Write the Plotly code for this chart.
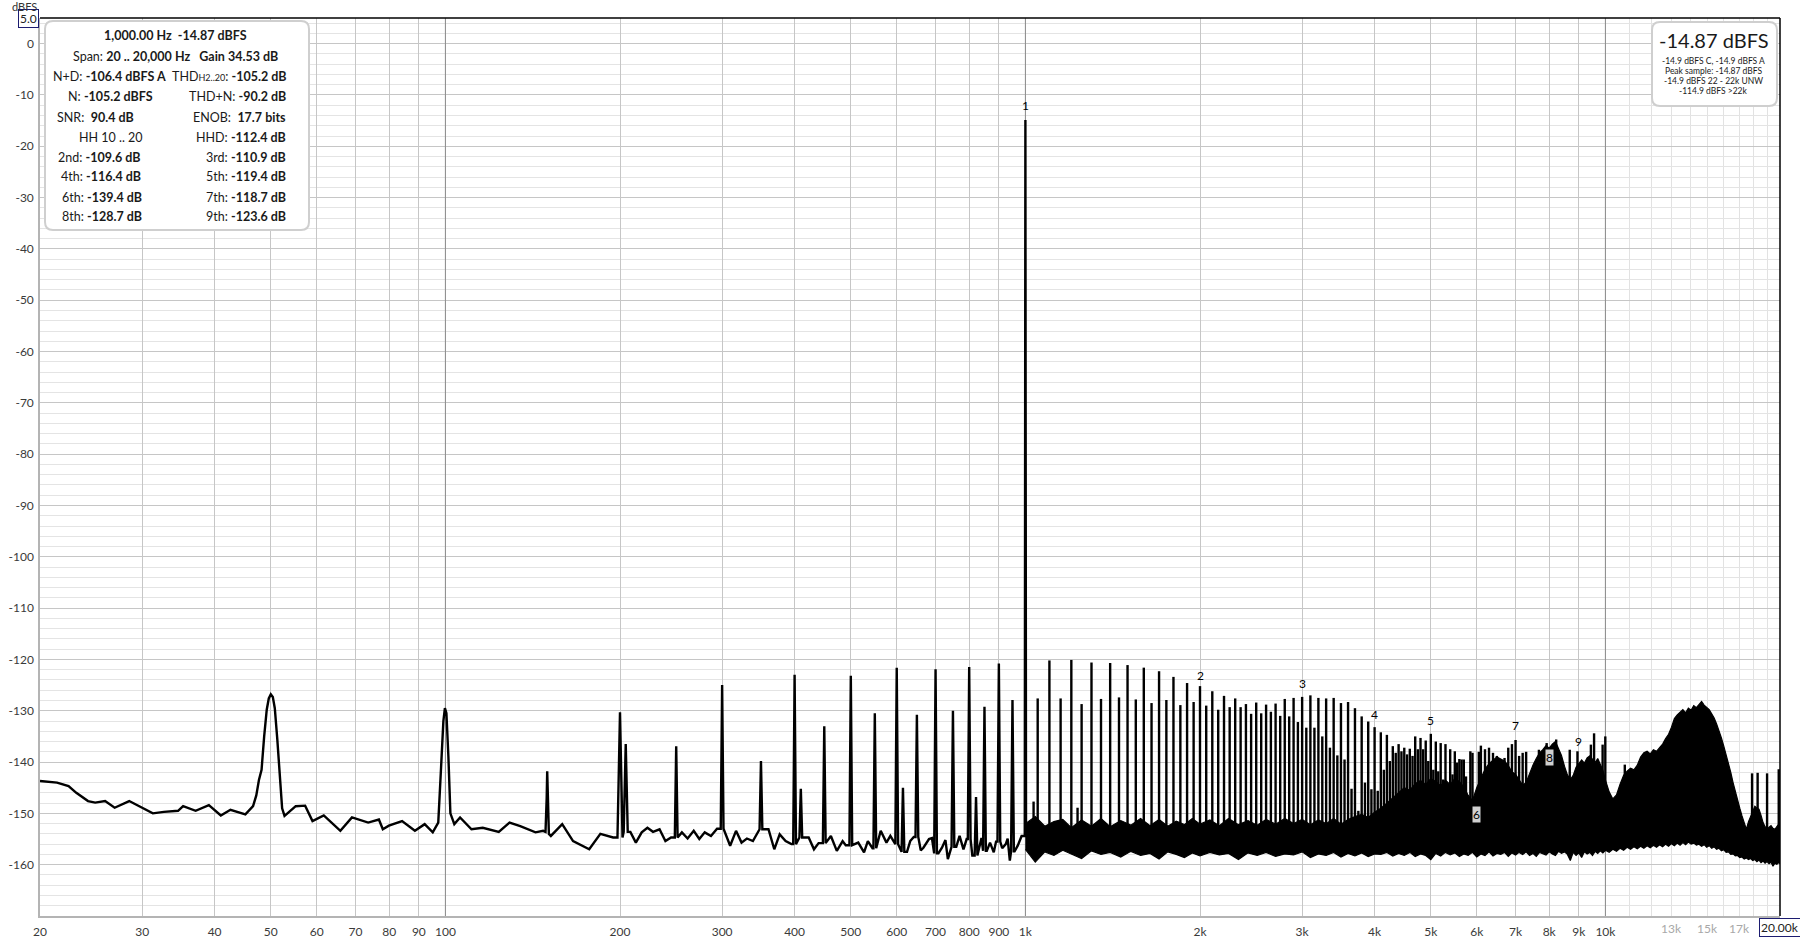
import math
import plotly.graph_objects as go

# ---------------- data ----------------
# low-frequency curve 20..185 Hz (Hz, dBFS)
lf_freq = [20.0, 21.4, 22.4, 23.1, 24.2, 24.9, 25.9, 26.9, 28.5, 29.9,
           31.3, 32.7, 34.6, 35.3, 37.1, 39.1, 41.0, 42.6, 45.2, 46.6,
           47.2, 47.7, 48.2, 48.7, 49.2, 49.6, 50.0, 50.4, 50.8, 51.3,
           51.8, 52.3, 52.8, 55.2, 57.3, 59.0, 61.7, 65.9, 69.0, 73.6,
           76.8, 78.0, 79.9, 84.2, 88.6, 92.1, 95.1, 97.2, 98.3, 99.2,
           99.8, 100.4, 101.2, 102.0, 103.6, 106.0, 110.9, 116.0, 123.6, 129.0,
           134.6, 143.0, 147.4, 148.8, 149.5, 149.8, 150.2, 150.8, 152.0, 159.0,
           166.0, 177.0, 185.0]
lf_db = [-143.7, -144.0, -144.7, -146.0, -147.6, -147.9, -147.6, -148.9, -147.6, -148.9,
         -150.0, -149.7, -149.5, -148.6, -149.5, -148.4, -150.4, -149.3, -150.2, -148.6,
         -146.5, -143.5, -141.5, -135.0, -129.8, -127.6, -126.8, -127.3, -129.5, -135.5,
         -143.5, -149.0, -150.5, -148.6, -148.5, -151.5, -150.4, -153.4, -150.8, -151.8,
         -151.2, -153.1, -152.4, -151.5, -153.4, -152.1, -153.7, -151.8, -141.0, -132.0,
         -129.5, -130.5, -139.0, -150.0, -152.1, -150.8, -153.1, -152.8, -153.6, -151.8,
         -152.5, -153.7, -153.4, -153.6, -147.0, -141.8, -146.5, -154.0, -154.4, -152.1,
         -155.4, -157.0, -154.0]

# noise floor 190 Hz .. 1 kHz
mid_floor_freq = [190, 194.6, 208.4, 213, 218, 223, 228, 234, 239.5, 245,
                  255.7, 261.6, 268, 274, 280, 287, 294, 309.7, 317, 324,
                  331, 339, 360.6, 369, 377, 386, 395, 423, 432, 440,
                  462, 473, 484, 490, 515, 527, 535, 545, 563, 576,
                  585, 595, 625, 633, 642, 660, 667, 682, 690, 708,
                  718, 728, 735, 760, 770, 782, 792, 810, 834, 840,
                  858, 869, 882, 890, 912, 925, 932, 940, 958, 970, 985]
mid_floor_db = [-154.4, -154.7, -153.6, -155.7, -153.7, -152.8, -153.6, -153.1, -155.4, -154.7,
                -153.7, -154.9, -153.4, -155.0, -153.7, -154.4, -153.0, -156.3, -153.4, -155.7,
                -154.9, -155.4, -153.1, -157.0, -154.1, -155.4, -156.0, -154.7, -157.0, -155.8,
                -154.4, -157.3, -155.4, -156.2, -155.7, -157.6, -155.4, -156.8, -153.4, -155.7,
                -154.4, -156.0, -157.5, -155.4, -154.6, -157.2, -156.7, -155.0, -154.8, -157.8,
                -156.7, -155.2, -158.9, -156.5, -154.4, -157.0, -155.0, -158.2, -156.3, -154.8,
                -157.3, -155.7, -157.6, -155.5, -156.8, -156.0, -154.9, -159.2, -157.4, -156.3, -154.4]

# tones below / at 1 kHz
mid_spike_freq = [200, 204.6, 250, 300, 350, 400, 410, 450, 500, 550,
                  600, 615, 650, 700, 750, 800, 822, 850, 900, 950, 1000]
mid_spike_db = [-130.3, -136.5, -136.9, -125.0, -139.8, -123.0, -145.2, -133.0, -123.2, -130.5,
                -121.6, -145.0, -130.8, -121.9, -130.0, -121.5, -146.8, -129.2, -120.8, -127.9, -14.87]

# tones above 1 kHz
hf_spike_freq = [1033, 1050, 1100, 1150, 1200, 1230, 1250, 1300, 1350, 1400,
                 1450, 1500, 1550, 1600, 1650, 1700, 1750, 1800, 1850, 1900,
                 1950, 2000, 2050, 2100, 2150, 2200, 2250, 2300, 2350, 2400,
                 2450, 2500, 2550, 2600, 2650, 2700, 2750, 2800, 2850, 2900,
                 2950, 3000, 3050, 3100, 3150, 3200, 3250, 3300, 3350, 3400,
                 3450, 3500, 3550, 3600, 3650, 3700, 3750, 3800, 3850, 3900,
                 3950, 4000, 4050, 4100, 4150, 4200, 4250, 4300, 4350, 4400,
                 4450, 4500, 4550, 4600, 4650, 4700, 4750, 4800, 4850, 4900,
                 4950, 5000, 5050, 5100, 5150, 5200, 5250, 5300, 5350, 5400,
                 5450, 5500, 5550, 5600, 5650, 5700, 5750, 5850, 5900, 6000,
                 6050, 6100, 6200, 6300, 6400, 6500, 6600, 6700, 6800, 6900,
                 7000, 7100, 7200, 7300, 7680, 7920, 8225, 8680, 8950, 9165,
                 9440, 9560, 9890, 9996, 10800, 11100, 17900, 18300, 19000, 19900]
hf_spike_db = [-147.7, -127.6, -120.2, -127.6, -120.1, -148.9, -128.7, -120.6, -127.7, -120.7,
               -127.4, -121.1, -127.8, -121.6, -128.5, -122.3, -127.9, -123.4, -128.9, -124.6,
               -128.3, -125.2, -129.0, -126.2, -129.8, -127.1, -129.3, -127.6, -129.3, -128.7,
               -130.6, -128.4, -130.5, -128.8, -130.2, -128.6, -131.0, -127.7, -131.1, -127.5,
               -132.2, -127.3, -133.3, -127.0, -133.3, -127.5, -135.0, -127.6, -137.2, -127.5,
               -138.7, -128.5, -139.5, -128.3, -145.2, -129.5, -149.5, -131.1, -144.0, -132.1,
               -145.3, -133.2, -145.6, -134.2, -141.5, -134.7, -139.8, -136.9, -138.2, -136.5,
               -137.9, -137.2, -138.5, -137.4, -138.8, -135.0, -137.5, -135.3, -137.5, -135.8,
               -139.8, -134.5, -141.5, -136.0, -141.8, -136.3, -143.4, -136.5, -145.3, -137.5,
               -142.4, -137.9, -140.1, -139.4, -139.5, -139.5, -142.8, -137.9, -138.2, -147.6,
               -138.0, -136.8, -137.5, -137.2, -138.2, -138.8, -139.5, -139.2, -137.2, -136.5,
               -135.7, -138.8, -138.2, -138.0, -137.6, -136.3, -135.6, -137.6, -137.9, -140.2,
               -136.6, -134.4, -136.6, -135.0, -140.5, -142.8, -142.2, -142.1, -142.2, -141.4]

# dense noise band above 1 kHz: top and bottom edges
band_freq = [1000, 1040, 1080, 1120, 1160, 1200, 1250, 1300, 1350, 1400,
             1460, 1520, 1580, 1640, 1700, 1760, 1820, 1880, 1940, 2000,
             2080, 2160, 2240, 2330, 2420, 2510, 2600, 2700, 2800, 2900,
             3000, 3100, 3200, 3300, 3400, 3500, 3600, 3700, 3800, 3900,
             4000, 4100, 4200, 4300, 4400, 4500, 4600, 4700, 4800, 4900,
             5000, 5100, 5200, 5300, 5400, 5500, 5600, 5700, 5800, 5900,
             6000, 6100, 6200, 6300, 6400, 6500, 6600, 6700, 6800, 6900,
             7000, 7100, 7200, 7300, 7400, 7500, 7600, 7700, 7800, 7900,
             8000, 8100, 8200, 8300, 8400, 8500, 8600, 8700, 8800, 8900,
             9000, 9100, 9200, 9300, 9400, 9500, 9600, 9700, 9800, 9900,
             10000, 10150, 10300, 10450, 10600, 10750, 10900, 11050, 11200, 11350,
             11500, 11650, 11800, 11950, 12100, 12250, 12400, 12550, 12700, 12850,
             13000, 13150, 13300, 13450, 13600, 13750, 13900, 14050, 14200, 14350,
             14500, 14650, 14800, 14950, 15100, 15250, 15400, 15550, 15700, 15850,
             16000, 16150, 16300, 16450, 16600, 16750, 16900, 17050, 17200, 17350,
             17500, 17650, 17800, 17950, 18100, 18250, 18400, 18550, 18700, 18850,
             19000, 19150, 19300, 19450, 19600, 19750, 19900, 20000]
band_top_db = [-152.0, -150.6, -152.5, -151.6, -151.2, -152.8, -151.3, -152.5, -151.0, -152.6,
               -151.4, -152.3, -151.0, -152.4, -151.2, -152.5, -151.5, -152.2, -151.0, -152.1,
               -151.3, -152.4, -151.0, -152.2, -151.4, -152.3, -151.2, -152.1, -151.0, -152.0,
               -151.2, -152.2, -151.3, -152.0, -151.0, -152.1, -151.2, -150.6, -150.2, -150.8,
               -149.8, -149.0, -148.0, -147.0, -146.0, -145.0, -145.5, -144.2, -143.6, -144.4,
               -143.2, -143.8, -144.6, -143.5, -144.4, -143.2, -143.8, -144.9, -146.5, -147.5,
               -145.0, -143.2, -141.4, -140.3, -139.6, -139.0, -139.4, -139.8, -140.7, -141.9,
               -142.4, -143.6, -144.5, -144.0, -142.2, -140.6, -139.3, -138.2, -137.6, -136.8,
               -137.3, -136.5, -136.0, -137.4, -138.7, -140.8, -142.5, -143.4, -142.6, -141.0,
               -140.3, -139.6, -140.2, -139.2, -138.8, -139.5, -140.1, -139.3, -140.4, -141.6,
               -143.5, -145.8, -147.2, -146.4, -144.3, -142.6, -141.8, -141.2, -141.5, -140.6,
               -139.0, -138.2, -137.9, -138.4, -137.6, -137.9, -137.2, -136.5, -135.4, -134.6,
               -133.2, -131.5, -130.8, -130.2, -129.8, -130.4, -129.5, -129.9, -129.0, -129.4,
               -128.7, -128.2, -128.9, -129.3, -129.8, -130.6, -131.4, -132.6, -133.8, -135.3,
               -136.9, -138.5, -140.2, -142.0, -144.0, -145.8, -147.3, -149.0, -150.5, -152.0,
               -153.1, -151.6, -150.5, -149.3, -148.6, -149.0, -149.2, -150.4, -151.8, -152.6,
               -153.1, -152.7, -152.4, -152.9, -153.1, -152.6, -152.0, -151.8]
band_bot_db = [-157.0, -159.5, -157.5, -158.2, -157.2, -158.0, -158.8, -157.3, -158.0, -157.6,
               -158.5, -157.4, -158.2, -157.8, -158.9, -157.5, -158.0, -158.6, -157.7, -158.3,
               -157.6, -158.1, -157.8, -159.0, -157.7, -158.2, -157.6, -158.4, -157.9, -158.1,
               -157.5, -158.6, -157.9, -158.2, -157.6, -158.5, -157.8, -158.3, -157.7, -158.4,
               -157.9, -158.0, -157.6, -158.3, -157.8, -158.2, -157.6, -158.4, -157.9, -158.2,
               -159.0, -157.8, -158.3, -157.6, -158.1, -157.7, -158.4, -157.9, -158.2, -157.6,
               -158.5, -157.9, -158.2, -157.5, -158.3, -157.8, -158.0, -157.6, -158.4, -157.7,
               -158.1, -157.6, -158.0, -157.5, -158.2, -157.8, -158.4, -157.6, -157.9, -158.1,
               -157.5, -157.9, -158.2, -157.4, -157.8, -157.5, -158.0, -159.2, -157.6, -158.2,
               -157.7, -158.6, -157.5, -157.9, -157.6, -158.2, -157.4, -157.8, -157.3, -157.7,
               -157.2, -157.6, -157.0, -157.4, -156.8, -157.2, -156.6, -157.0, -156.5, -156.9,
               -156.4, -156.8, -156.3, -156.7, -156.2, -156.6, -156.1, -156.5, -156.0, -156.4,
               -155.9, -156.3, -155.8, -156.2, -155.7, -156.1, -155.6, -156.0, -155.8, -156.2,
               -156.0, -156.4, -156.1, -156.6, -156.3, -156.8, -156.5, -157.0, -156.8, -157.3,
               -157.1, -157.6, -157.5, -158.0, -157.9, -158.3, -158.2, -158.6, -158.5, -158.9,
               -158.7, -159.0, -158.8, -159.2, -159.0, -159.4, -159.1, -159.6, -159.3, -159.7,
               -159.4, -159.8, -159.5, -160.3, -159.7, -159.9, -159.6, -159.8]

# harmonic markers
marker_freq = [1000, 2000, 3000, 4000, 5000, 6000, 7000, 8000, 9000]
marker_db = [-12.1, -123.2, -124.6, -130.7, -131.9, -150.3, -132.9, -139.2, -136.0]
marker_text = ["1", "2", "3", "4", "5", "6", "7", "8", "9"]
marker_boxed = [False, False, False, False, False, True, False, True, False]

# axis ticks
x_tick_vals = [20, 30, 40, 50, 60, 70, 80, 90, 100, 200, 300, 400, 500, 600, 700, 800, 900,
               1000, 2000, 3000, 4000, 5000, 6000, 7000, 8000, 9000, 10000]
x_tick_text = ["20", "30", "40", "50", "60", "70", "80", "90", "100", "200", "300", "400", "500",
               "600", "700", "800", "900", "1k", "2k", "3k", "4k", "5k", "6k", "7k", "8k", "9k", "10k"]
x_minor_vals = [11000, 12000, 13000, 14000, 15000, 16000, 17000, 18000, 19000]
x_grey_labels = ["13k", "15k", "17k"]
x_grey_label_freq = [13000, 15000, 17000]
x_decade_lines = [100, 1000, 10000]
y_tick_vals = [0, -10, -20, -30, -40, -50, -60, -70, -80, -90, -100, -110, -120, -130, -140, -150, -160]

# ---------------- layout geometry (pixels) ----------------
W, H = 1800, 940
PL, PR, PT, PB = 40, 1780, 18, 916
X_RANGE = (20, 20000)
Y_RANGE = (-170, 5)
FONT = "Lato"


def px_x(px):
    return (px - PL) / (PR - PL)


def px_y(py):
    return (PB - py) / (PB - PT)


def spike_halfwidth(f):
    if f >= 999:
        return 0.0025
    if f < 202:
        return 0.010
    if f < 230:
        return 0.008
    return 0.0055


# build the low/mid-frequency curve (floor + tones)
floor_pts = list(zip(lf_freq, lf_db)) + list(zip(mid_floor_freq, mid_floor_db))
pts = list(floor_pts)
for f, lvl in zip(mid_spike_freq, mid_spike_db):
    w = spike_halfwidth(f)
    lo, hi = f * (1 - w), f * (1 + w)
    base = min(floor_pts, key=lambda p: abs(p[0] - f))[1]
    pts = [p for p in pts if not (lo <= p[0] <= hi)]
    pts += [(lo, base), (f, lvl), (hi, base)]
pts.sort(key=lambda p: p[0])
curve_x = [p[0] for p in pts]
curve_y = [p[1] for p in pts]

# vertical tone lines above 1 kHz
sx, sy = [], []
for f, lvl in zip(hf_spike_freq, hf_spike_db):
    sx += [f, f, None]
    sy += [-155, lvl, None]

# decade grid lines
dx, dy = [], []
for f in x_decade_lines:
    dx += [f, f, None]
    dy += [Y_RANGE[0], Y_RANGE[1], None]

fig = go.Figure()
fig.add_trace(go.Scatter(x=dx, y=dy, mode="lines", line=dict(color="#8c8c8c", width=1),
                         hoverinfo="skip", showlegend=False))
fig.add_trace(go.Scatter(x=band_freq + band_freq[::-1], y=band_top_db + band_bot_db[::-1],
                         mode="lines", fill="toself", fillcolor="#000000",
                         line=dict(color="#000000", width=1.2), hoverinfo="skip", showlegend=False))
fig.add_trace(go.Scatter(x=sx, y=sy, mode="lines", line=dict(color="#000000", width=2.4),
                         hoverinfo="skip", showlegend=False))
fig.add_trace(go.Scatter(x=curve_x, y=curve_y, mode="lines", line=dict(color="#000000", width=2.4),
                         hoverinfo="skip", showlegend=False))

annotations = []
# harmonic markers
for f, d, t, boxed in zip(marker_freq, marker_db, marker_text, marker_boxed):
    annotations.append(dict(x=math.log10(f), y=d, xref="x", yref="y", text=t, showarrow=False,
                            font=dict(family=FONT, size=12, color="#000000"),
                            bgcolor="#d0d0d0" if boxed else "rgba(0,0,0,0)", borderpad=0,
                            xanchor="center", yanchor="middle"))

# grey axis labels and boxed end labels
for f, t in zip(x_grey_label_freq, x_grey_labels):
    xp = PL + (PR - PL) * math.log10(f / X_RANGE[0]) / math.log10(X_RANGE[1] / X_RANGE[0])
    annotations.append(dict(x=px_x(xp), y=px_y(928), xref="paper", yref="paper", text=t,
                            showarrow=False, font=dict(family=FONT, size=12, color="#a8a8a8"),
                            xanchor="center", yanchor="middle"))
annotations.append(dict(x=px_x(1780), y=px_y(927), xref="paper", yref="paper", text="20.00k",
                        showarrow=False, font=dict(family=FONT, size=12, color="#222222"),
                        bordercolor="#1c1c70", borderwidth=1, borderpad=1, bgcolor="#ffffff",
                        xanchor="center", yanchor="middle"))
annotations.append(dict(x=px_x(28.5), y=px_y(19), xref="paper", yref="paper", text="5.0",
                        showarrow=False, font=dict(family=FONT, size=12, color="#222222"),
                        bordercolor="#1c1c70", borderwidth=1, borderpad=1, bgcolor="#ffffff",
                        xanchor="center", yanchor="middle"))
annotations.append(dict(x=px_x(24), y=px_y(6.5), xref="paper", yref="paper", text="dBFS",
                        showarrow=False, font=dict(family=FONT, size=11, color="#333333"),
                        xanchor="center", yanchor="middle"))

# info boxes
BOXF = 12.5
TXT = "#1a1a1a"


def ann(xpix, ypix, text, anchor="left", size=BOXF):
    annotations.append(dict(x=px_x(xpix), y=px_y(ypix), xref="paper", yref="paper", text=text,
                            showarrow=False, font=dict(family=FONT, size=size, color=TXT),
                            xanchor=anchor, yanchor="middle", borderpad=0))


ann(175, 36, "<b>1,000.00 Hz  -14.87 dBFS</b>", "center")
ann(175, 56.5, "Span: <b>20 .. 20,000 Hz   Gain 34.53 dB</b>", "center")
left_rows = [(52, 76.5, "N+D: <b>-106.4 dBFS A</b>"),
             (67, 96.5, "N: <b>-105.2 dBFS</b>"),
             (56, 117, "SNR:  <b>90.4 dB</b>"),
             (78, 137, "HH 10 .. 20"),
             (57, 157, "2nd: <b>-109.6 dB</b>"),
             (60, 177, "4th: <b>-116.4 dB</b>"),
             (61, 197, "6th: <b>-139.4 dB</b>"),
             (61, 217, "8th: <b>-128.7 dB</b>")]
for xp, yp, t in left_rows:
    ann(xp, yp, t, "left")
right_rows = [(76.5, "THD<span style='font-size:9px'>H2..20</span>: <b>-105.2 dB</b>"),
              (96.5, "THD+N: <b>-90.2 dB</b>"),
              (117, "ENOB:  <b>17.7 bits</b>"),
              (137, "HHD: <b>-112.4 dB</b>"),
              (157, "3rd: <b>-110.9 dB</b>"),
              (177, "5th: <b>-119.4 dB</b>"),
              (197, "7th: <b>-118.7 dB</b>"),
              (217, "9th: <b>-123.6 dB</b>")]
for yp, t in right_rows:
    ann(287, yp, t, "right")

ann(1713, 40, "-14.87 dBFS", "center", 20)
ann(1713, 61, "-14.9 dBFS C, -14.9 dBFS A", "center", 8.5)
ann(1713, 71, "Peak sample: -14.87 dBFS", "center", 8.5)
ann(1713, 81, "-14.9 dBFS 22 - 22k UNW", "center", 8.5)
ann(1713, 91, "-114.9 dBFS >22k", "center", 8.5)


def rounded_box(x0, y0, x1, y1, r):
    X = lambda v: px_x(v)
    Y = lambda v: px_y(v)
    return (f"M {X(x0 + r)},{Y(y0)} L {X(x1 - r)},{Y(y0)} Q {X(x1)},{Y(y0)} {X(x1)},{Y(y0 + r)} "
            f"L {X(x1)},{Y(y1 - r)} Q {X(x1)},{Y(y1)} {X(x1 - r)},{Y(y1)} "
            f"L {X(x0 + r)},{Y(y1)} Q {X(x0)},{Y(y1)} {X(x0)},{Y(y1 - r)} "
            f"L {X(x0)},{Y(y0 + r)} Q {X(x0)},{Y(y0)} {X(x0 + r)},{Y(y0)} Z")


shapes = [
    dict(type="path", path=rounded_box(45, 21, 309, 230, 8), xref="paper", yref="paper",
         fillcolor="#ffffff", line=dict(color="#cfcfcf", width=2), layer="above"),
    dict(type="path", path=rounded_box(1652, 22, 1777, 106, 8), xref="paper", yref="paper",
         fillcolor="#ffffff", line=dict(color="#cfcfcf", width=2), layer="above"),
    dict(type="line", x0=0, x1=1, y0=1, y1=1, xref="paper", yref="paper",
         line=dict(color="#000000", width=1.5), layer="above"),
    dict(type="line", x0=1, x1=1, y0=0, y1=1, xref="paper", yref="paper",
         line=dict(color="#000000", width=1.5), layer="above"),
]

fig.update_layout(
    width=W, height=H,
    margin=dict(l=PL, r=W - PR, t=PT, b=H - PB, pad=0, autoexpand=False),
    paper_bgcolor="#ffffff", plot_bgcolor="#ffffff",
    showlegend=False, hovermode=False,
    font=dict(family=FONT, size=12, color="#3a3a3a"),
    annotations=annotations, shapes=shapes,
    xaxis=dict(type="log", range=[math.log10(X_RANGE[0]), math.log10(X_RANGE[1])],
               automargin=False,
               tickmode="array", tickvals=x_tick_vals, ticktext=x_tick_text,
               showgrid=True, gridcolor="#c6c6c6", gridwidth=1,
               minor=dict(tickmode="array", tickvals=x_minor_vals, showgrid=True,
                          gridcolor="#e2e2e2", gridwidth=1, ticks=""),
               showline=True, linecolor="#b4b4b4", linewidth=1.5, zeroline=False,
               ticks="", ticklabelstandoff=4, tickfont=dict(family=FONT, size=12, color="#3a3a3a")),
    yaxis=dict(range=list(Y_RANGE), automargin=False,
               tickmode="array", tickvals=y_tick_vals,
               ticktext=[str(v) for v in y_tick_vals],
               showgrid=True, gridcolor="#c6c6c6", gridwidth=1,
               minor=dict(dtick=2, showgrid=True, gridcolor="#e4e4e4", gridwidth=1, ticks=""),
               showline=True, linecolor="#b4b4b4", linewidth=1.5, zeroline=False,
               ticks="", ticklabelstandoff=2, tickfont=dict(family=FONT, size=12, color="#3a3a3a")),
)

fig.write_html("out.html", config={"displayModeBar": False},
               post_script="document.body.style.margin='0';document.body.style.overflow='hidden';")
